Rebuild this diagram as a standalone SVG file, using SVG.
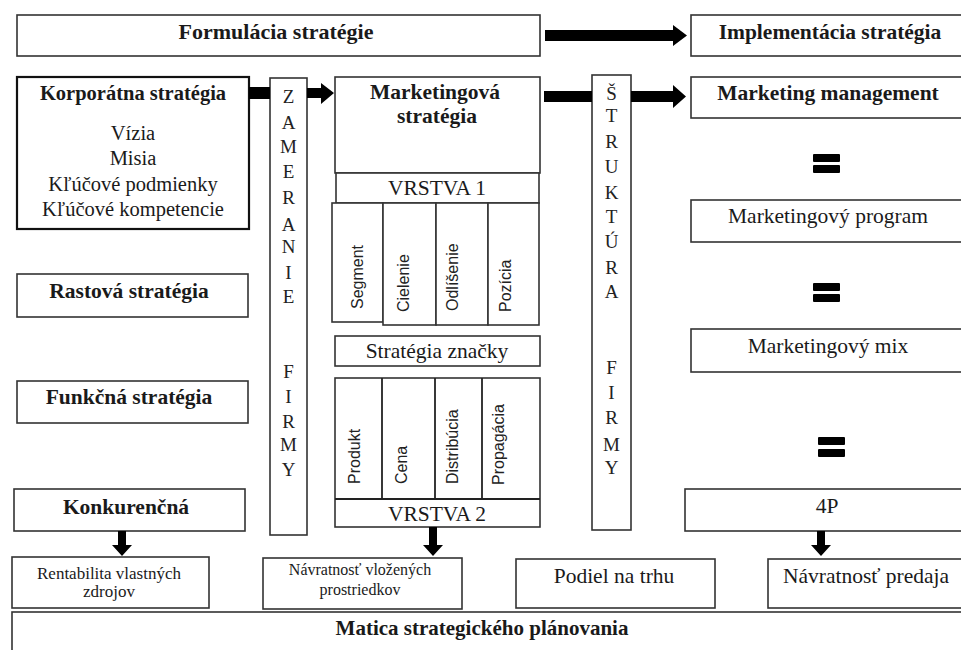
<svg xmlns="http://www.w3.org/2000/svg" width="961" height="650" viewBox="0 0 961 650">
<style>
.box{fill:#fff;stroke:#333;stroke-width:1.6}
.thick{stroke:#111;stroke-width:2.2}
.t{font-family:"Liberation Serif","Times New Roman",serif;font-size:21.5px;fill:#1a1a1a;text-anchor:middle}
.b{font-weight:bold}
.k{font-size:20.5px}
.s{font-size:16px}
.s2{font-size:17px}
.v{font-family:"Liberation Sans",Arial,sans-serif;font-size:16px;fill:#222;text-anchor:start}
.col{font-family:"Liberation Serif","Times New Roman",serif;font-size:19px;fill:#222;text-anchor:middle}
.ar{fill:#000}
.eq{fill:#000}
</style>
<rect width="961" height="650" fill="#fff"/>

<g id="formulacia">
<rect class="box" x="17" y="15" width="523" height="41"/>
<text class="t b" x="276" y="39" style="font-size:22px">Formulácia stratégie</text>
</g>
<g id="implementacia">
<rect class="box" x="691" y="15" width="275" height="41"/>
<text class="t b" x="830" y="39">Implementácia stratégia</text>
</g>

<g id="korporatna">
<rect class="box thick" x="17" y="77" width="232" height="152"/>
<text class="t b k" x="133" y="100">Korporátna stratégia</text>
<text class="t k" x="133" y="140">Vízia</text>
<text class="t k" x="133" y="165">Misia</text>
<text class="t k" x="133" y="191">Kľúčové podmienky</text>
<text class="t k" x="133" y="216">Kľúčové kompetencie</text>
</g>
<g id="rastova">
<rect class="box" x="17" y="274" width="231" height="43"/>
<text class="t b" x="129" y="298">Rastová stratégia</text>
</g>
<g id="funkcna">
<rect class="box" x="17" y="381" width="231" height="42"/>
<text class="t b" x="129" y="404">Funkčná stratégia</text>
</g>
<g id="konkurencna">
<rect class="box" x="14" y="489" width="231" height="42"/>
<text class="t b" x="126" y="514">Konkurenčná</text>
</g>

<g id="zameranie">
<rect class="box" x="270" y="78" width="37" height="457"/>
<text class="col" x="288.5" y="103">Z</text>
<text class="col" x="288.5" y="129">A</text>
<text class="col" x="288.5" y="153">M</text>
<text class="col" x="288.5" y="178">E</text>
<text class="col" x="288.5" y="204">R</text>
<text class="col" x="288.5" y="231">A</text>
<text class="col" x="288.5" y="253">N</text>
<text class="col" x="288.5" y="279">I</text>
<text class="col" x="288.5" y="303">E</text>
<text class="col" x="288.5" y="378">F</text>
<text class="col" x="288.5" y="403">I</text>
<text class="col" x="288.5" y="428">R</text>
<text class="col" x="288.5" y="451">M</text>
<text class="col" x="288.5" y="476">Y</text>
</g>

<g id="marketingova">
<rect class="box" x="335" y="77" width="205" height="96"/>
<text class="t b" x="435" y="99" style="font-size:21.5px">Marketingová</text>
<text class="t b" x="437" y="123" style="font-size:21.5px">stratégia</text>
</g>
<g id="vrstva1">
<rect class="box" x="336" y="173" width="203" height="30"/>
<text class="t" x="437" y="195">VRSTVA 1</text>
<rect class="box" x="332" y="203" width="51" height="119"/>
<rect class="box" x="383" y="203" width="53" height="122"/>
<rect class="box" x="436" y="203" width="52" height="122"/>
<rect class="box" x="488" y="203" width="51" height="122"/>
<text class="v" transform="translate(357,309) rotate(-90)" dy="0.35em">Segment</text>
<text class="v" transform="translate(403,312) rotate(-90)" dy="0.35em">Cielenie</text>
<text class="v" transform="translate(452,311) rotate(-90)" dy="0.35em">Odlíšenie</text>
<text class="v" transform="translate(505,312) rotate(-90)" dy="0.35em">Pozícia</text>
</g>
<g id="znacka">
<rect class="box" x="335" y="336" width="205" height="30"/>
<text class="t" x="437" y="358">Stratégia značky</text>
</g>
<g id="vrstva2">
<rect class="box" x="335" y="378" width="205" height="149"/>
<line x1="382" y1="378" x2="382" y2="499" stroke="#222" stroke-width="1.8"/>
<line x1="435" y1="378" x2="435" y2="499" stroke="#222" stroke-width="1.8"/>
<line x1="482" y1="378" x2="482" y2="499" stroke="#222" stroke-width="1.8"/>
<line x1="335" y1="499" x2="540" y2="499" stroke="#222" stroke-width="1.8"/>
<text class="v" transform="translate(354,484) rotate(-90)" dy="0.35em">Produkt</text>
<text class="v" transform="translate(401,484) rotate(-90)" dy="0.35em">Cena</text>
<text class="v" transform="translate(452,484) rotate(-90)" dy="0.35em">Distribúcia</text>
<text class="v" transform="translate(498,485) rotate(-90)" dy="0.35em">Propagácia</text>
<text class="t" x="437" y="521">VRSTVA 2</text>
</g>

<g id="struktura">
<rect class="box" x="592" y="75" width="39" height="455"/>
<text class="col" x="611.5" y="100">Š</text>
<text class="col" x="611.5" y="122">T</text>
<text class="col" x="611.5" y="148">R</text>
<text class="col" x="611.5" y="173">U</text>
<text class="col" x="611.5" y="199">K</text>
<text class="col" x="611.5" y="223">T</text>
<text class="col" x="611.5" y="248">Ú</text>
<text class="col" x="611.5" y="274">R</text>
<text class="col" x="611.5" y="298">A</text>
<text class="col" x="611.5" y="374">F</text>
<text class="col" x="611.5" y="399">I</text>
<text class="col" x="611.5" y="424">R</text>
<text class="col" x="611.5" y="451">M</text>
<text class="col" x="611.5" y="474">Y</text>
</g>

<g id="mmanagement">
<rect class="box" x="691" y="77" width="275" height="41"/>
<text class="t b" x="828" y="100">Marketing management</text>
</g>
<g id="mprogram">
<rect class="box" x="691" y="200" width="275" height="42"/>
<text class="t" x="828" y="223">Marketingový program</text>
</g>
<g id="mmix">
<rect class="box" x="691" y="329" width="275" height="43"/>
<text class="t" x="828" y="353">Marketingový mix</text>
</g>
<g id="p4">
<rect class="box" x="685" y="489" width="281" height="42"/>
<text class="t" x="827" y="513">4P</text>
</g>

<g id="rentabilita">
<rect class="box" x="12" y="557" width="197" height="51"/>
<text class="t s2" x="109" y="579">Rentabilita vlastných</text>
<text class="t s2" x="109" y="597">zdrojov</text>
</g>
<g id="navratnost-vlozenych">
<rect class="box" x="263" y="558" width="199" height="51"/>
<text class="t s" x="360" y="575">Návratnosť vložených</text>
<text class="t s" x="360" y="595">prostriedkov</text>
</g>
<g id="podiel">
<rect class="box" x="516" y="559" width="199" height="49"/>
<text class="t" x="614" y="583">Podiel na trhu</text>
</g>
<g id="navratnost-predaja">
<rect class="box" x="768" y="559" width="198" height="49"/>
<text class="t" x="866" y="583">Návratnosť predaja</text>
</g>
<g id="matica">
<rect class="box" x="12" y="612" width="960" height="50"/>
<text class="t b" x="482" y="635" style="font-size:21px">Matica strategického plánovania</text>
</g>

<g id="equals">
<rect class="eq" x="813" y="154" width="27" height="8" rx="1"/>
<rect class="eq" x="813" y="165" width="27" height="8" rx="1"/>
<rect class="eq" x="813" y="283" width="27" height="8" rx="1"/>
<rect class="eq" x="813" y="294" width="27" height="8" rx="1"/>
<rect class="eq" x="818" y="437" width="27" height="8" rx="1"/>
<rect class="eq" x="818" y="449" width="27" height="8" rx="1"/>
</g>

<g id="connectors">
<polygon class="ar" points="545,30 673,30 673,25 687,35.5 673,46 673,41 545,41"/>
<rect class="ar" x="249" y="87" width="21" height="12"/>
<polygon class="ar" points="307,88 321,88 321,83 334,93 321,104 321,98 307,98"/>
<rect class="ar" x="544" y="91" width="48" height="11"/>
<polygon class="ar" points="631,91 673,91 673,85 686,96.5 673,108 673,102 631,102"/>
<polygon class="ar" points="118,531 126,531 126,545 132,545 122,556 112,545 118,545"/>
<polygon class="ar" points="429,527 437,527 437,545 443,545 433,556 423,545 429,545"/>
<polygon class="ar" points="817,531 825,531 825,545 831,545 821,556 811,545 817,545"/>
</g>
</svg>
